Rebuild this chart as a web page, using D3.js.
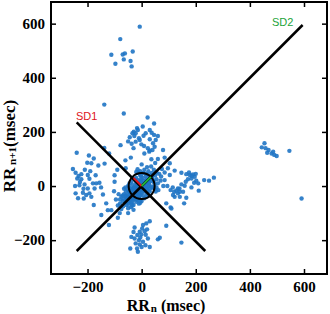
<!DOCTYPE html>
<html>
<head>
<meta charset="utf-8">
<script src="https://cdn.jsdelivr.net/npm/d3@7"></script>
<style>
  body { margin: 0; background: #fff; }
  .tick text { font-family: "Liberation Serif", serif; font-weight: bold; font-size: 15px; fill: #000; }
  .tick line { stroke: #000; stroke-width: 1.5; }
</style>
</head>
<body>
<svg id="poincare" width="330" height="314"></svg>
<script>
// ticks (msec)
const tickValues = [-200, 0, 200, 400, 600];

// Poincare points, RRn vs RRn+1 (msec), grouped by cluster
const centralPts = [[0,0],[10,5],[-10,-5],[5,-12],[-8,10],[15,15],[-15,-15],[20,8],[-20,-8],[8,20],[-8,-20],[25,20],[-25,-22],[18,-5],[-18,5],[30,28],[-30,-30],[12,-20],[-12,22],[3,30],[-3,-32],[28,5],[-28,-5],[22,-15],[-22,15],[35,18],[-35,-15],[-38,-35],[-40,-20],[-20,-40],[40,35],[-45,-40],[-10,-45],[-45,-5],[5,-35],[32,-8],[-5,40],[15,35],[-50,-30],[-30,-50],[45,15],[15,45],[-55,-50],[-48,-55],[-58,-20],[-20,-58],[50,40],[38,48],[-60,-40],[-40,-62],[55,25],[25,55],[-35,5],[-15,-30],[-28,-18],[-2,15],[8,-5],[-6,3],[20,-28],[-25,25],[40,-5],[-5,-50],[60,10],[-65,-10],[-10,-65],[10,60],[65,45],[45,60],[-70,-55],[-55,-70],[-65,-30],[-30,-70],[-50,0],[0,-55],[48,-12],[-12,48],[70,20],[20,70],[-75,-40],[-40,-78],[-80,-65],[-68,-75],[30,-20],[-20,30],[55,-5],[-5,55],[-45,-20],[-20,-48],[-35,-45],[-52,-40],[6,48],[48,6],[-60,-60],[-15,-5],[-5,-15],[12,12],[-12,-12],[24,-2],[-2,24],[35,40],[-42,-28],[-28,-42],[-33,-25],[-25,-33],[2,-22],[-22,2],[-38,-10],[-10,-38],[28,38],[38,28],[62,-15],[-15,62],[72,35],[35,72],[-85,-30],[-30,-88],[-88,-72],[-75,-85],[80,0],[0,80],[-48,-65],[-65,-48],[52,-20],[-20,52],[-8,-28],[-28,-8],[18,-38],[-38,18],[-45,10],[10,-45],[-95,-50],[-50,-100],[85,50],[50,85],[-3,-8],[7,-18],[-18,-25],[-32,-10],[-8,-35],[18,25],[27,12],[-42,-48],[-50,-15],[-15,-52],[42,22],[22,42],[-58,-35],[-35,-58],[-25,-12],[-12,-25],[5,8],[-5,18],[18,-12],[-60,-5],[-5,-62],[36,-2],[-2,36],[-70,-35],[-35,-72],[55,50],[-80,-50],[-50,-82]];
const topPts = [[-7,589],[-79,543],[-112,485],[-97,452],[-70,486],[-62,490],[-66,468],[-33,497],[-41,462],[-37,442]];
const upperPts = [[-138,301],[-66,268],[22,253],[46,231],[4,220],[-17,214],[-29,201],[-34,195],[-22,195],[30,207],[37,197],[46,189],[60,185],[7,186],[-10,177],[-44,180],[-22,164],[-37,156],[-78,151],[-1,154],[9,148],[30,173],[42,158],[23,140],[30,131],[40,133],[-40,105],[36,99],[-138,141],[-14,207],[-7,170],[-27,185],[15,195],[52,170],[-30,140],[10,120],[48,145],[-50,165]];
const leftPts = [[-240,123],[-195,113],[-177,102],[-201,86],[-186,84],[-160,76],[-137,83],[-254,63],[-244,49],[-233,37],[-223,44],[-238,28],[-223,25],[-199,41],[-193,27],[-180,10],[-168,10],[-156,12],[-211,6],[-230,3],[-246,0],[-199,-9],[-174,-9],[-244,-27],[-217,-25],[-205,-33],[-193,-27],[-186,-40],[-214,-46],[-143,-31],[-177,-70],[-131,-64],[-125,-89],[-81,-100],[-59,66],[-100,16],[-102,-19],[-210,60],[-228,15],[-215,-10],[-235,-45],[-190,55],[-170,40],[-150,-5]];
const rightPts = [[28,127],[75,63],[97,66],[122,57],[147,49],[165,44],[178,41],[190,43],[196,34],[184,28],[171,25],[202,20],[194,12],[209,10],[231,22],[249,20],[267,31],[163,16],[159,1],[147,6],[134,-9],[128,-17],[120,-21],[107,-15],[134,-27],[141,-21],[153,-21],[122,-40],[116,-33],[91,-64],[157,-64],[110,-83],[184,-5],[211,-17],[104,41],[85,22],[185,38],[175,50],[200,45],[140,-10],[115,-5],[95,0]];
const bottomPts = [[30,-130],[17,-138],[5,-144],[-26,-153],[2,-157],[11,-167],[-7,-169],[-1,-179],[-16,-181],[-38,-188],[-26,-194],[23,-194],[-10,-200],[5,-206],[-22,-212],[-7,-216],[14,-219],[30,-225],[-42,-231],[-17,-231],[-14,-243],[67,-191],[60,-197],[91,-147],[147,-209],[107,-79],[-112,-89],[-121,-144],[-149,-107],[-88,-117],[165,-43],[141,-40],[-5,-190],[15,-180],[-30,-170],[0,-225],[20,-160]];
const farRightPts = [[444,143],[454,158],[464,123],[469,133],[486,127],[490,115],[499,111],[546,130],[591,-46],[480,120],[458,140]];
const scatterPts = [[79,133],[104,84],[60,100],[-90,60],[-60,95],[85,105],[-100,40],[-120,120]];

// SD axes (msec)
const sd2Line = [[-240,-240],[595,595]];
const sd1Line = [[-240,235],[235,-240]];
const ellipseR = 48;
const sd1Len = 42, sd2Len = 48;

const svg = d3.select("svg#poincare");
const margin = {top: 2, right: 3, bottom: 40, left: 51};
const width = +svg.attr("width"), height = +svg.attr("height");
const plotW = width - margin.left - margin.right;
const plotH = height - margin.top - margin.bottom;

const x = d3.scaleLinear().domain([-335, 685]).range([margin.left, margin.left + plotW]);
const y = d3.scaleLinear().domain([-325, 680]).range([margin.top + plotH, margin.top]);

// points
const allPts = [].concat(centralPts, topPts, upperPts, leftPts, rightPts, bottomPts, farRightPts, scatterPts);
svg.append("g").selectAll("circle").data(allPts)
   .join("circle")
   .attr("cx", d => x(d[0]))
   .attr("cy", d => y(d[1]))
   .attr("r", 2.2)
   .attr("fill", "#1f74c4")
   .attr("opacity", 0.9);

// SD lines
const line = d3.line().x(d => x(d[0])).y(d => y(d[1]));
svg.append("path").attr("d", line(sd2Line)).attr("stroke", "#000").attr("stroke-width", 2.5).attr("fill", "none");
svg.append("path").attr("d", line(sd1Line)).attr("stroke", "#000").attr("stroke-width", 2.5).attr("fill", "none");

// ellipse and SD vectors
svg.append("ellipse")
   .attr("cx", x(0)).attr("cy", y(0))
   .attr("rx", x(ellipseR) - x(0)).attr("ry", y(0) - y(ellipseR))
   .attr("fill", "none").attr("stroke", "#000").attr("stroke-width", 2);
const k = Math.SQRT1_2;
svg.append("path").attr("d", line([[0,0],[-sd1Len*k, sd1Len*k]])).attr("stroke", "#e0141c").attr("stroke-width", 2);
svg.append("path").attr("d", line([[0,0],[sd2Len*k, sd2Len*k]])).attr("stroke", "#22b33a").attr("stroke-width", 2);

// labels SD1 / SD2
svg.append("text").attr("x", 76).attr("y", 120).text("SD1")
   .style("font-family", "Liberation Sans, Arial").style("font-size", "11px").attr("fill", "#e0141c");
svg.append("text").attr("x", 272).attr("y", 26).text("SD2")
   .style("font-family", "Liberation Sans, Arial").style("font-size", "11px").attr("fill", "#22a33a");

// axes, ticks inward on all sides
svg.append("g").attr("transform", "translate(0," + (margin.top + plotH) + ")")
   .call(d3.axisBottom(x).tickValues(tickValues).tickSize(-5).tickSizeOuter(0).tickPadding(7))
   .call(g => g.select(".domain").remove());
svg.append("g").attr("transform", "translate(" + margin.left + ",0)")
   .call(d3.axisLeft(y).tickValues(tickValues).tickSize(-5).tickSizeOuter(0).tickPadding(6))
   .call(g => g.select(".domain").remove());
svg.append("g").attr("transform", "translate(0," + margin.top + ")")
   .call(d3.axisTop(x).tickValues(tickValues).tickSize(-5).tickSizeOuter(0).tickFormat(""))
   .call(g => g.select(".domain").remove());
svg.append("g").attr("transform", "translate(" + (margin.left + plotW) + ",0)")
   .call(d3.axisRight(y).tickValues(tickValues).tickSize(-5).tickSizeOuter(0).tickFormat(""))
   .call(g => g.select(".domain").remove());

svg.append("rect")
   .attr("x", margin.left).attr("y", margin.top)
   .attr("width", plotW).attr("height", plotH)
   .attr("fill", "none").attr("stroke", "#000").attr("stroke-width", 2);

// axis titles
const xt = svg.append("text").attr("x", 166).attr("y", 311).attr("text-anchor", "middle")
   .style("font-family", "Liberation Serif, serif").style("font-weight", "bold").style("font-size", "16px");
xt.append("tspan").text("RR");
xt.append("tspan").text("n").style("font-size", "11px").attr("dx", 1).attr("dy", 1);
xt.append("tspan").text(" (msec)").attr("dy", -1);

const yt = svg.append("text").attr("transform", "translate(15,146) rotate(-90)").attr("text-anchor", "middle")
   .style("font-family", "Liberation Serif, serif").style("font-weight", "bold").style("font-size", "17px");
yt.append("tspan").text("RR");
yt.append("tspan").text(" n+1").style("font-size", "11px").attr("dy", 1);
yt.append("tspan").text("(msec)").attr("dy", -1);
</script>
</body>
</html>
